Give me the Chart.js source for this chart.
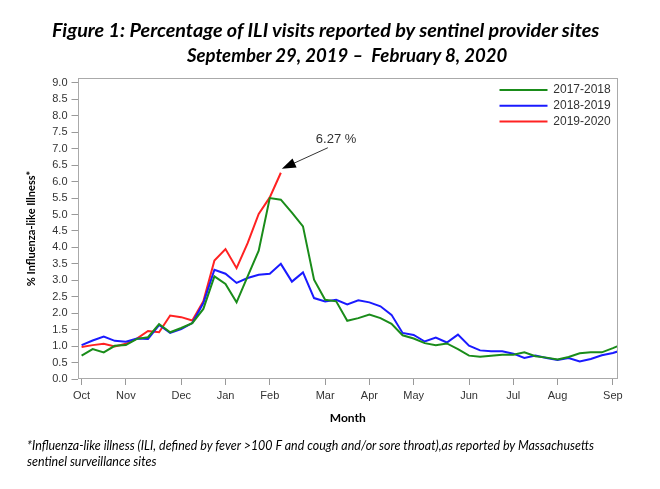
<!DOCTYPE html>
<html>
<head>
<meta charset="utf-8">
<title>ILI visits</title>
<script src="https://cdn.jsdelivr.net/npm/chart.js"></script>
<style>
body{margin:0;background:#fff;}
#wrap{position:relative;width:660px;height:489px;overflow:hidden;background:#fff;}
#myChart{position:absolute;left:0;top:0;}
.txt{position:absolute;white-space:pre;transform-origin:0 50%;color:#000;}
.ttl{font:italic bold 18px Lato, sans-serif;height:22px;line-height:22px;}
.note{font:italic 12.5px Lato, sans-serif;height:16px;line-height:16px;}
</style>
</head>
<body>
<div id="wrap">
<canvas id="myChart" width="660" height="489"></canvas>
<div class="txt ttl" id="t1" style="left:52px;top:19px">Figure 1: Percentage of ILI visits reported by sentinel provider sites</div>
<div class="txt ttl" id="t2" style="left:187px;top:44px">September 29, 2019 –  February 8, 2020</div>
<div class="txt note" id="n1" style="left:27px;top:438px">*Influenza-like illness (ILI, defined by fever &gt;100 F and cough and/or sore throat),as reported by Massachusetts</div>
<div class="txt note" id="n2" style="left:27px;top:454px">sentinel surveillance sites</div>
</div>
<script>
// weekly % ILI, week 0 = first week of October
let ili1718 = [0.71,0.91,0.81,1.01,1.03,1.22,1.27,1.67,1.42,1.55,1.70,2.13,3.12,2.89,2.33,3.12,3.90,5.50,5.45,5.06,4.64,3.02,2.41,2.36,1.77,1.85,1.96,1.85,1.68,1.33,1.23,1.09,1.03,1.08,0.91,0.71,0.68,0.71,0.74,0.74,0.81,0.69,0.65,0.59,0.67,0.78,0.81,0.81,0.94,1.08];
let ili1819 = [1.03,1.17,1.29,1.16,1.13,1.23,1.22,1.64,1.40,1.52,1.70,2.31,3.32,3.20,2.92,3.07,3.17,3.20,3.50,2.96,3.24,2.46,2.36,2.41,2.27,2.39,2.33,2.21,1.95,1.40,1.34,1.14,1.26,1.11,1.35,1.01,0.87,0.84,0.84,0.77,0.64,0.71,0.64,0.58,0.64,0.53,0.61,0.72,0.79,0.90];
let ili1920 = [0.97,1.03,1.07,0.99,1.07,1.23,1.46,1.42,1.93,1.88,1.78,2.36,3.60,3.95,3.37,4.13,5.02,5.52,6.27];
let seasons = ['2017-2018','2018-2019','2019-2020'];
let colors1 = ['#1a8c1a','#1a1aff','#ff2222'];
let monthLabels = ['Oct','Nov','Dec','Jan','Feb','Mar','Apr','May','Jun','Jul','Aug','Sep'];
let monthWeeks = [0,4,9,13,17,22,26,30,35,39,43,48];
let yTicks = [0,0.5,1,1.5,2,2.5,3,3.5,4,4.5,5,5.5,6,6.5,7,7.5,8,8.5,9];

function byWeek(arr){
    return arr.map(function(v,i){ return {x:i, y:v}; });
}

// grey box round the plot
const frame = {
    id:'frame',
    afterDraw(c){
        const a = c.chartArea, ctx = c.ctx;
        ctx.save();
        ctx.strokeStyle = '#aaaaaa';
        ctx.lineWidth = 1;
        const l = Math.round(a.left)+0.5, t = Math.round(a.top)+0.5;
        const r = Math.round(a.right)-0.5, b = Math.round(a.bottom)-0.5;
        ctx.strokeRect(l, t, r-l, b-t);
        ctx.restore();
    }
};

// legend inside the plot, top right
const legendBox = {
    id:'legendBox',
    afterDraw(c){
        const a = c.chartArea, ctx = c.ctx;
        ctx.save();
        ctx.font = '12px "Liberation Sans", Arial, sans-serif';
        ctx.textBaseline = 'middle';
        ctx.fillStyle = '#333';
        c.data.datasets.forEach(function(d,i){
            const y = a.top + 12 + i*15.7;
            ctx.strokeStyle = d.borderColor;
            ctx.lineWidth = 2;
            ctx.beginPath();
            ctx.moveTo(a.right-118.5, y);
            ctx.lineTo(a.right-70.5, y);
            ctx.stroke();
            ctx.fillText(d.label, a.right-64.7, y);
        });
        ctx.restore();
    }
};

// arrow pointing at the latest 2019-2020 value
const peakNote = {
    id:'peakNote',
    afterDatasetsDraw(c){
        const meta = c.getDatasetMeta(2);
        const pt = meta.data[meta.data.length-1];
        const ctx = c.ctx;
        const tx = pt.x+1, ty = pt.y-4;
        const sx = tx+46, sy = ty-21;
        const ang = Math.atan2(ty-sy, tx-sx);
        ctx.save();
        ctx.strokeStyle = '#333';
        ctx.lineWidth = 1;
        ctx.beginPath();
        ctx.moveTo(sx, sy);
        ctx.lineTo(tx-10*Math.cos(ang), ty-10*Math.sin(ang));
        ctx.stroke();
        ctx.fillStyle = '#000';
        ctx.beginPath();
        ctx.moveTo(tx, ty);
        ctx.lineTo(tx-14*Math.cos(ang)+5*Math.sin(ang), ty-14*Math.sin(ang)-5*Math.cos(ang));
        ctx.lineTo(tx-14*Math.cos(ang)-5*Math.sin(ang), ty-14*Math.sin(ang)+5*Math.cos(ang));
        ctx.closePath();
        ctx.fill();
        ctx.font = '13px "Liberation Sans", Arial, sans-serif';
        ctx.fillStyle = '#333';
        ctx.textBaseline = 'middle';
        ctx.fillText(ili1920[ili1920.length-1].toFixed(2)+' %', sx-12, sy-8);
        ctx.restore();
    }
};

let tickFont = {family:'Liberation Sans', size:11};

let myChart = document.getElementById('myChart').getContext('2d');
let chart1 = new Chart(myChart,{
    type:'line',
    data:{
        datasets:[
            {label:seasons[0], data:byWeek(ili1718), borderColor:colors1[0], clip:0},
            {label:seasons[1], data:byWeek(ili1819), borderColor:colors1[1], clip:0},
            {label:seasons[2], data:byWeek(ili1920), borderColor:colors1[2], clip:0}
        ]
    },
    options:{
        responsive:false,
        animation:false,
        devicePixelRatio:1,
        layout:{padding:{left:0, top:78, right:42, bottom:60}},
        elements:{
            point:{radius:0},
            line:{borderWidth:2, tension:0, fill:false}
        },
        plugins:{
            legend:{display:false},
            tooltip:{enabled:false}
        },
        scales:{
            x:{
                type:'linear',
                min:-0.37,
                max:48.46,
                afterFit:function(s){ s.height = 50; },
                afterBuildTicks:function(s){ s.ticks = monthWeeks.map(function(w){ return {value:w}; }); },
                ticks:{
                    callback:function(v){ return monthLabels[monthWeeks.indexOf(v)]; },
                    font:tickFont, color:'#333', padding:4, maxRotation:0, autoSkip:false
                },
                grid:{drawOnChartArea:false, tickLength:6, color:'#999'},
                border:{display:false},
                title:{display:true, text:'Month', color:'#000',
                    font:{family:'Lato', weight:'bold', size:12},
                    padding:{top:0, bottom:4}}
            },
            y:{
                min:0,
                max:9.15,
                afterFit:function(s){ s.width = 77.5; },
                afterBuildTicks:function(s){ s.ticks = yTicks.map(function(v){ return {value:v}; }); },
                ticks:{
                    callback:function(v){ return v.toFixed(1); },
                    font:tickFont, color:'#333', padding:4
                },
                grid:{drawOnChartArea:false, tickLength:6, color:'#999'},
                border:{display:false},
                title:{display:true, text:'% Influenza-like Illness*', color:'#000',
                    font:{family:'Lato', weight:'bold', size:11},
                    padding:{top:25, bottom:0}}
            }
        }
    },
    plugins:[frame, legendBox, peakNote]
});

// squeeze the html text to the widths in the figure
// offsetWidth ignores the transform, so this can run more than once
function squeeze(el, w){
    const k = w/el.offsetWidth;
    el.style.transform = 'scaleX('+k+')';
    return k;
}
function fitText(){
    squeeze(document.getElementById('t1'), 547);
    squeeze(document.getElementById('t2'), 320);
    const k = squeeze(document.getElementById('n1'), 567);
    document.getElementById('n2').style.transform = 'scaleX('+k+')';
}
fitText();
if (document.fonts && document.fonts.ready) document.fonts.ready.then(fitText);
</script>
</body>
</html>
